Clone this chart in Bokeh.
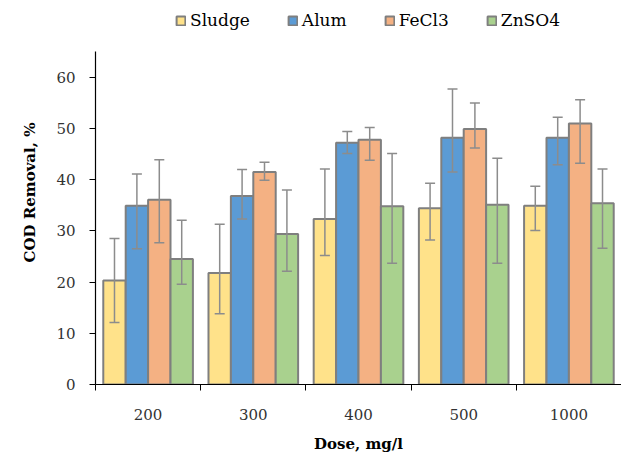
from bokeh.plotting import figure
from bokeh.models import (ColumnDataSource, Whisker, TeeHead, FixedTicker, Legend,
                          LegendItem, Range1d)
from bokeh.embed import file_html
from bokeh.resources import INLINE

doses = ["200", "300", "400", "500", "1000"]
series = ["Sludge", "Alum", "FeCl3", "ZnSO4"]
colors = ["#FFE28A", "#5B9BD5", "#F4B183", "#A9D18E"]

sludge = [20.3, 21.8, 32.3, 34.4, 34.9]
sludge_lo = [12.1, 13.8, 25.2, 28.2, 30.1]
sludge_hi = [28.5, 31.3, 42.1, 39.3, 38.7]

alum = [34.9, 36.8, 47.2, 48.2, 48.2]
alum_lo = [26.5, 32.3, 45.1, 41.5, 42.9]
alum_hi = [41.1, 42.0, 49.4, 57.7, 52.2]

fecl3 = [36.1, 41.5, 47.8, 49.9, 51.0]
fecl3_lo = [27.7, 39.9, 43.8, 46.2, 43.2]
fecl3_hi = [43.9, 43.4, 50.2, 55.0, 55.6]

znso4 = [24.5, 29.4, 34.8, 35.1, 35.4]
znso4_lo = [19.6, 22.1, 23.7, 23.7, 26.6]
znso4_hi = [32.1, 38.0, 45.1, 44.2, 42.1]

values = [sludge, alum, fecl3, znso4]
lows = [sludge_lo, alum_lo, fecl3_lo, znso4_lo]
highs = [sludge_hi, alum_hi, fecl3_hi, znso4_hi]

FONT = "DejaVu Serif"

p = figure(width=621, height=455, output_backend="svg", toolbar_location=None,
           x_range=Range1d(0, len(doses)), y_range=Range1d(0, 75))
p.min_border_left = 95
p.min_border_right = 0
p.min_border_bottom = 71
p.min_border_top = 0
p.outline_line_color = None
p.xgrid.visible = False
p.ygrid.visible = False
p.background_fill_color = "white"

bw = 0.213
items = []
for i, (name, col) in enumerate(zip(series, colors)):
    xs = [k + 0.5 + (i - 1.5) * bw for k in range(len(doses))]
    src = ColumnDataSource(dict(x=xs, top=values[i], lo=lows[i], hi=highs[i]))
    r = p.vbar(x="x", top="top", width=bw, source=src, fill_color=col,
               line_color="#7F7F7F", line_width=2)
    items.append(LegendItem(label=name, renderers=[r]))
    w = Whisker(base="x", lower="lo", upper="hi", source=src,
                line_color="#8C8C8C", line_width=1.5, level="overlay",
                upper_head=TeeHead(size=10, line_color="#8C8C8C", line_width=1.5),
                lower_head=TeeHead(size=10, line_color="#8C8C8C", line_width=1.5))
    p.add_layout(w)

legend = Legend(items=items, orientation="horizontal", location=(80, 354),
                label_text_font=FONT, label_text_font_size="17px",
                label_text_color="#000000", glyph_width=11, glyph_height=11,
                label_standoff=4, spacing=37, padding=4, margin=0,
                border_line_color=None, background_fill_alpha=0)
p.add_layout(legend)

# x axis: labels at category centres, ticks at boundaries
p.xaxis.ticker = FixedTicker(ticks=[k + 0.5 for k in range(len(doses))],
                             minor_ticks=list(range(0, len(doses))))
p.xaxis.major_label_overrides = {k + 0.5: d for k, d in enumerate(doses)}
p.xaxis.major_tick_line_color = None
p.xaxis.major_tick_out = 0
p.xaxis.minor_tick_out = 6
p.xaxis.minor_tick_in = 0
p.xaxis.minor_tick_line_color = "#000000"
p.xaxis.axis_line_color = "#000000"
p.xaxis.axis_line_width = 1.2
p.xaxis.major_label_standoff = 18
p.xaxis.axis_label = "Dose, mg/l"
p.xaxis.axis_label_standoff = 12

p.yaxis.ticker = FixedTicker(ticks=[0, 10, 20, 30, 40, 50, 60])
p.yaxis.bounds = (0, 65)
p.yaxis.minor_tick_line_color = None
p.yaxis.major_tick_out = 6
p.yaxis.major_tick_in = 0
p.yaxis.major_tick_line_color = "#000000"
p.yaxis.axis_line_color = "#000000"
p.yaxis.axis_line_width = 1.2
p.yaxis.major_label_standoff = 14
p.yaxis.axis_label = "COD Removal, %"
p.yaxis.axis_label_standoff = 14

for ax in (p.xaxis, p.yaxis):
    ax.major_label_text_font = FONT
    ax.major_label_text_font_size = "15px"
    ax.major_label_text_color = "#333333"
    ax.axis_label_text_font = FONT
    ax.axis_label_text_font_size = "15px"
    ax.axis_label_text_font_style = "bold"
    ax.axis_label_text_color = "#000000"

open("out.html", "w").write(file_html(p, INLINE))
